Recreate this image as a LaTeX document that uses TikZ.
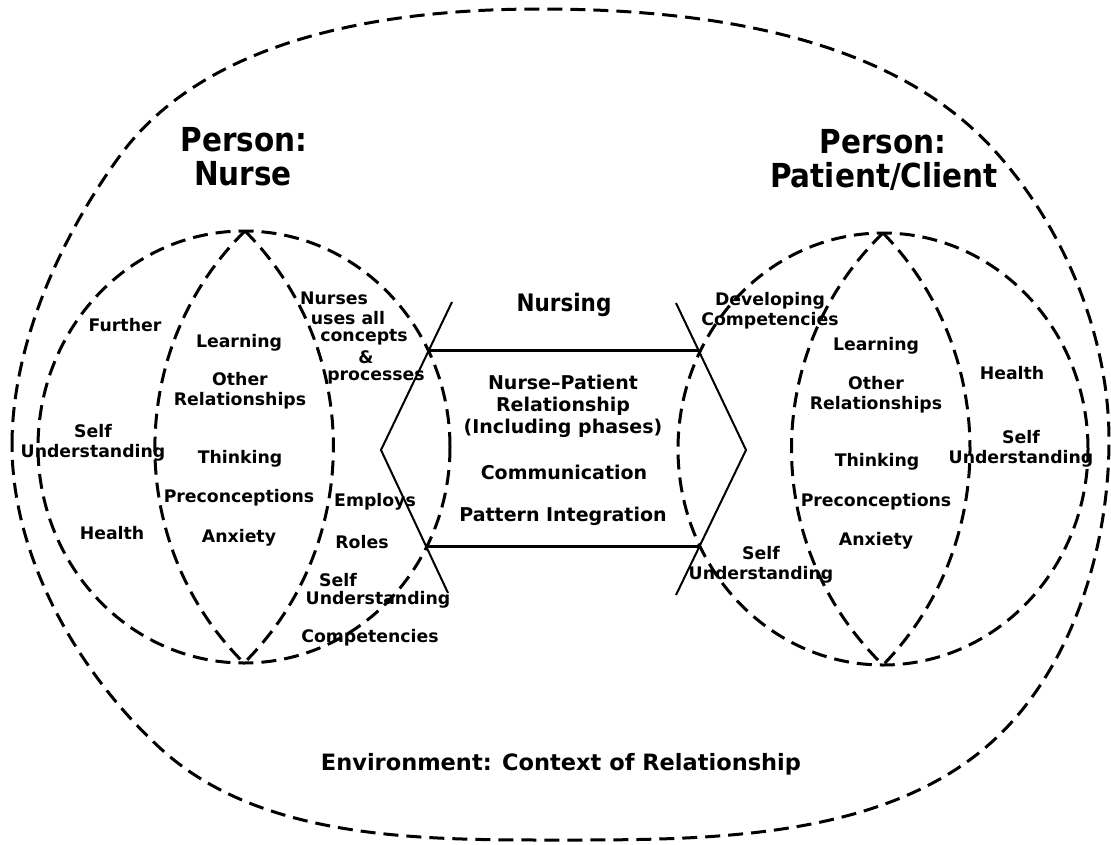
\documentclass[tikz,border=0pt]{standalone}
\usepackage{fontspec}
\setmainfont{DejaVu Sans}
\newcommand{\vstretch}[1]{\scalebox{1}[1.12]{#1}}
\begin{document}
\begin{tikzpicture}[x=1pt,y=-1pt,
  dsh/.style={line width=3pt, dash pattern=on 15pt off 8pt},
  solidline/.style={line width=2pt},
  heavyline/.style={line width=3pt},
  lbl/.style={font=\fontsize{17.3}{19.8}\selectfont\bfseries, inner sep=0pt, align=center},
  midlbl/.style={font=\fontsize{19}{22}\selectfont\bfseries, inner sep=0pt, align=center},
  ttl/.style={font=\fontsize{29.5}{33}\selectfont\bfseries, inner sep=0pt}]
\useasboundingbox (0,0) rectangle (1111,844);

% outer environment boundary
\coordinate (oL) at (12,445);
\coordinate (oTL) at (119,157);
\coordinate (oT) at (540,9);
\coordinate (oTR) at (994,150);
\coordinate (oR) at (1109,440);
\coordinate (oBR) at (994,740);
\coordinate (oB) at (560,840);
\coordinate (oBL) at (160,748);
\draw[dsh] (oL) .. controls (12,345) and (60,238) .. (oTL)
  .. controls (207,35.5) and (390,9) .. (oT)
  .. controls (698,9) and (888,33) .. (oTR)
  .. controls (1064,227) and (1109,336) .. (oR)
  .. controls (1109,547) and (1073,667) .. (oBR)
  .. controls (885,840) and (708,840) .. (oB)
  .. controls (423,840) and (261,841) .. (oBL)
  .. controls (77.5,672) and (12,557) .. (oL) -- cycle;

% nurse circle and lens
\coordinate (nC) at (244,447);
\coordinate (nT) at (245,231);
\coordinate (nB) at (244,663);
\draw[dsh] (nC) ellipse [x radius=206pt, y radius=216pt];
\draw[dsh] (nT) .. controls (125,349) and (125,545) .. (nB);
\draw[dsh] (nT) .. controls (363,349) and (363,545) .. (nB);

% patient circle and lens
\coordinate (pC) at (883,449);
\coordinate (pT) at (883,233);
\coordinate (pB) at (883,665);
\draw[dsh] (pC) ellipse [x radius=205pt, y radius=216pt];
\draw[dsh] (pT) .. controls (761,352) and (761,546) .. (pB);
\draw[dsh] (pT) .. controls (999,352) and (999,546) .. (pB);

% nursing hexagon
\coordinate (hLt) at (452,302);
\coordinate (hLm) at (381,450);
\coordinate (hLb) at (448,593);
\coordinate (hRt) at (676,303);
\coordinate (hRm) at (746,450);
\coordinate (hRb) at (676,595);
\coordinate (hA) at (429,350);
\coordinate (hB) at (698,350);
\coordinate (hC) at (426,546);
\coordinate (hD) at (700,546);
\draw[solidline] (hLt) -- (hLm) -- (hLb);
\draw[solidline] (hRt) -- (hRm) -- (hRb);
\draw[heavyline] (hA) -- (hB);
\draw[heavyline] (hC) -- (hD);

% titles
\node[ttl] (t1a) at (244,140) {\vstretch{Person:}};
\node[ttl] (t1b) at (243,174) {\vstretch{Nurse}};
\node[ttl] (t2a) at (883,142) {\vstretch{Person:}};
\node[ttl] (t2b) at (884,176) {\vstretch{Patient/Client}};

% nurse labels
\node[lbl] (n1) at (125,325) {Further};
\node[lbl] (n2) at (239,343) {Learning};
\node[lbl] (n3) at (240,391) {Other\\Relationships};
\node[lbl] (n4) at (334,298) {Nurses};
\node[lbl] (n5) at (348,318) {uses all};
\node[lbl] (n6) at (364,337) {concepts};
\node[lbl] (n7) at (366,357) {\&};
\node[lbl] (n8) at (376,377) {processes};
\node[lbl] (n9) at (93,443) {Self\\Understanding};
\node[lbl] (n10) at (240,459) {Thinking};
\node[lbl] (n11) at (239,498) {Preconceptions};
\node[lbl] (n12) at (375,502) {Employs};
\node[lbl] (n13) at (112,533) {Health};
\node[lbl] (n14) at (239,538) {Anxiety};
\node[lbl] (n15) at (362,542) {Roles};
\node[lbl] (n16) at (338,580) {Self};
\node[lbl] (n17) at (378,600) {Understanding};
\node[lbl] (n18) at (370,638) {Competencies};

% patient labels
\node[lbl] (p1) at (770,311) {Developing\\Competencies};
\node[lbl] (p2) at (876,346) {Learning};
\node[lbl] (p3) at (1012,373) {Health};
\node[lbl] (p4) at (876,395) {Other\\Relationships};
\node[lbl] (p5) at (1021,449) {Self\\Understanding};
\node[lbl] (p6) at (877,462) {Thinking};
\node[lbl] (p7) at (876,502) {Preconceptions};
\node[lbl] (p8) at (876,541) {Anxiety};
\node[lbl] (p9) at (761,565) {Self\\Understanding};

% nursing labels
\node[font=\fontsize{21.5}{24}\selectfont\bfseries, inner sep=0pt] (m0) at (564,305) {\vstretch{Nursing}};
\node[midlbl] (m1) at (563,406) {Nurse--Patient\\Relationship\\(Including phases)};
\node[midlbl] (m2) at (564,472) {Communication};
\node[midlbl] (m3) at (563,516) {Pattern Integration};

% environment
\node[font=\fontsize{22.5}{25}\selectfont\bfseries, inner sep=0pt] (env) at (561,764) {Environment: Context of Relationship};
\end{tikzpicture}
\end{document}
